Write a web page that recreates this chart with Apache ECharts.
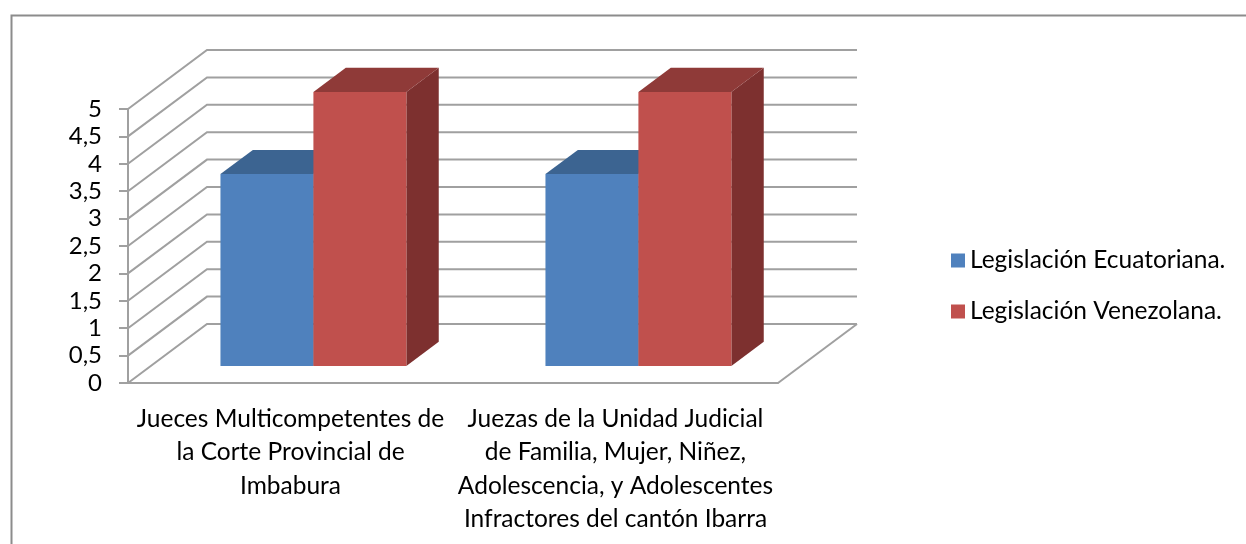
<!DOCTYPE html>
<html>
<head>
<meta charset="utf-8">
<title>Legislación</title>
<script src="https://cdn.jsdelivr.net/npm/echarts@6/dist/echarts.min.js"></script>
<style>
  html, body { margin: 0; padding: 0; background: #fff; }
  #chart { width: 1246px; height: 544px; }
</style>
</head>
<body>
<div id="chart"></div>
<script>
// datos
const categories = [
  "Jueces Multicompetentes de\nla Corte Provincial de\nImbabura",
  "Juezas de la Unidad Judicial\nde Familia, Mujer, Niñez,\nAdolescencia, y Adolescentes\nInfractores del cantón Ibarra"
];
const seriesNames = ["Legislación Ecuatoriana.", "Legislación Venezolana."];
const ecuatoriana = [3.5, 3.5];
const venezolana = [5, 5];
const yTicks = [0, 0.5, 1, 1.5, 2, 2.5, 3, 3.5, 4, 4.5, 5];

// pseudo 3D: depth offset of the box and where the bars sit in it
const DX = 79, DY = -59;
const BAR_D0 = 0.29, BAR_D1 = 0.70;
const BAR_W = 0.286;
const LINE = "#a0a0a0";
const FONT = "Lato";

const faces = [
  { front: "#4F81BD", top: "#3C6491", side: "#35597F" },
  { front: "#C0504D", top: "#8F3A38", side: "#7D302F" }
];

function barRenderer(idx) {
  return function (params, api) {
    const cat = api.value(0), v = api.value(1);
    const base = api.coord([cat, 0]);
    const top = api.coord([cat, v]);
    const bw = api.size([1, 0])[0] * BAR_W;
    const ox = DX * BAR_D0, oy = DY * BAR_D0;
    const dx = DX * (BAR_D1 - BAR_D0), dy = DY * (BAR_D1 - BAR_D0);
    const x0 = base[0] + ox + (idx === 0 ? -bw : 0);
    const x1 = x0 + bw;
    const yb = base[1] + oy, yt = top[1] + oy;
    const c = faces[idx];
    return {
      type: "group",
      children: [
        { type: "polygon", shape: { points: [[x1, yt], [x1 + dx, yt + dy], [x1 + dx, yb + dy], [x1, yb]] },
          style: { fill: c.side } },
        { type: "polygon", shape: { points: [[x0, yt], [x0 + dx, yt + dy], [x1 + dx, yt + dy], [x1, yt]] },
          style: { fill: c.top } },
        { type: "rect", shape: { x: x0, y: yt, width: bw, height: yb - yt },
          style: { fill: c.front } }
      ]
    };
  };
}

function wallRenderer(params, api) {
  const v = api.value(1);
  const p = api.coord([0, v]);
  const half = api.size([1, 0])[0] / 2;
  const left = p[0] - half;
  const right = api.coord([categories.length - 1, v])[0] + half;
  const children = [{
    type: "polyline",
    shape: { points: [[left, p[1]], [left + DX, p[1] + DY], [right + DX, p[1] + DY]] },
    style: { stroke: LINE, lineWidth: 2, fill: null }
  }];
  if (v === 0) {
    children.push({
      type: "line",
      shape: { x1: right, y1: p[1], x2: right + DX, y2: p[1] + DY },
      style: { stroke: LINE, lineWidth: 2 }
    });
  }
  return { type: "group", children: children };
}

const chart = echarts.init(document.getElementById("chart"));
chart.setOption({
  animation: false,
  backgroundColor: "#fff",
  graphic: [{
    type: "rect", left: 9, top: 13, silent: true,
    shape: { width: 1300, height: 600 },
    style: { fill: null, stroke: "#8c8c8c", lineWidth: 2 }
  }],
  grid: { left: 128, right: 468, top: 109, bottom: 161, outerBoundsMode: "none" },
  legend: {
    orient: "vertical", left: 946, top: 243,
    itemWidth: 14, itemHeight: 14, itemGap: 26, icon: "rect",
    textStyle: { fontFamily: FONT, fontSize: 24.5, lineHeight: 22, color: "#000" },
    data: seriesNames
  },
  xAxis: {
    type: "category",
    data: categories,
    axisLine: { lineStyle: { color: LINE, width: 2 } },
    axisTick: { length: 9, lineStyle: { color: LINE, width: 2 } },
    axisLabel: { interval: 0, margin: 19, fontFamily: FONT, fontSize: 24.5, lineHeight: 33.5, color: "#000", align: "center" },
    splitLine: { show: false }
  },
  yAxis: {
    type: "value", min: 0, max: 5, interval: 0.5,
    axisLine: { show: true, lineStyle: { color: LINE, width: 2 } },
    axisTick: { show: true, length: 9, lineStyle: { color: LINE, width: 2 } },
    axisLabel: {
      margin: 26, fontFamily: FONT, fontSize: 24, color: "#000",
      formatter: function (v) { return String(v).replace(".", ","); }
    },
    splitLine: { show: false }
  },
  series: [
    {
      type: "custom", name: "wall", z: 1, silent: true,
      renderItem: wallRenderer,
      data: yTicks.map(function (t) { return [0, t]; })
    },
    {
      type: "custom", name: seriesNames[0], z: 2,
      itemStyle: { color: faces[0].front },
      renderItem: barRenderer(0),
      data: ecuatoriana.map(function (v, i) { return [i, v]; })
    },
    {
      type: "custom", name: seriesNames[1], z: 3,
      itemStyle: { color: faces[1].front },
      renderItem: barRenderer(1),
      data: venezolana.map(function (v, i) { return [i, v]; })
    }
  ]
});
window.addEventListener("resize", function () { chart.resize(); });
</script>
</body>
</html>
